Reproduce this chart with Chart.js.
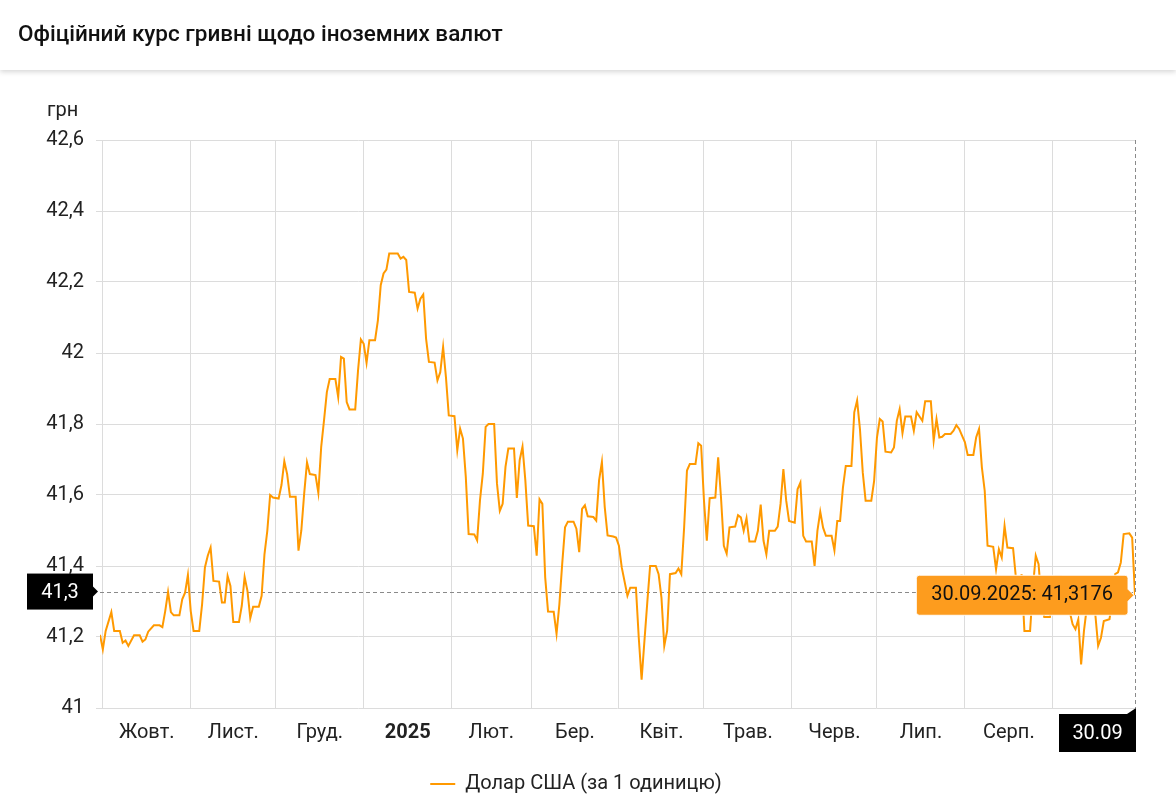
<!DOCTYPE html>
<html lang="uk">
<head>
<meta charset="utf-8">
<title>Офіційний курс гривні щодо іноземних валют</title>
<script src="https://cdn.jsdelivr.net/npm/chart.js@4"></script>
<style>
  html, body { margin: 0; padding: 0; background: #fff; width: 1176px; height: 807px; overflow: hidden; font-family: Roboto, "Noto Sans", sans-serif; }
  .header { position: absolute; left: 0; top: 0; width: 1176px; height: 70px; background: #fff; box-shadow: 0 2px 5px rgba(0,0,0,0.16); z-index: 2; }
  .header h1 { margin: 0; padding-left: 18px; line-height: 66px; font-size: 22.5px; font-weight: 500; color: #111; }
  .wrap { position: absolute; left: 0; top: 72px; width: 1176px; height: 735px; }
</style>
</head>
<body>
<div class="header"><h1>Офіційний курс гривні щодо іноземних валют</h1></div>
<div class="wrap"><canvas id="c" width="1176" height="735"></canvas></div>
<script>
// ---- data ----
const seriesName = 'Долар США (за 1 одиницю)';
const unitLabel = 'грн';
const monthLabels = ['Жовт.', 'Лист.', 'Груд.', '2025', 'Лют.', 'Бер.', 'Квіт.', 'Трав.', 'Черв.', 'Лип.', 'Серп.'];
const yTicksMin = 41, yTicksMax = 42.6, yTicksStep = 0.2;
const cursorValue = 41.328; // crosshair (mouse) level shown on the y axis

const dates = [
'2024-09-30','2024-10-01','2024-10-02','2024-10-04','2024-10-05','2024-10-07','2024-10-08','2024-10-09','2024-10-10','2024-10-12',
'2024-10-14','2024-10-15','2024-10-16','2024-10-17','2024-10-19','2024-10-21','2024-10-22','2024-10-23','2024-10-24','2024-10-25',
'2024-10-26','2024-10-28','2024-10-29','2024-10-30','2024-10-31','2024-11-01','2024-11-02','2024-11-04','2024-11-05','2024-11-06',
'2024-11-07','2024-11-08','2024-11-09','2024-11-11','2024-11-12','2024-11-13','2024-11-14','2024-11-15','2024-11-16','2024-11-18',
'2024-11-19','2024-11-20','2024-11-21','2024-11-22','2024-11-23','2024-11-25','2024-11-26','2024-11-27','2024-11-28','2024-11-29',
'2024-11-30','2024-12-02','2024-12-03','2024-12-04','2024-12-05','2024-12-06','2024-12-08','2024-12-09','2024-12-10','2024-12-11',
'2024-12-12','2024-12-13','2024-12-15','2024-12-16','2024-12-17','2024-12-18','2024-12-19','2024-12-20','2024-12-22','2024-12-23',
'2024-12-24','2024-12-25','2024-12-26','2024-12-27','2024-12-29','2024-12-30','2024-12-31','2025-01-01','2025-01-02','2025-01-03',
'2025-01-05','2025-01-06','2025-01-07','2025-01-08','2025-01-09','2025-01-10','2025-01-13','2025-01-14','2025-01-15','2025-01-16',
'2025-01-17','2025-01-19','2025-01-20','2025-01-21','2025-01-22','2025-01-23','2025-01-24','2025-01-26','2025-01-27','2025-01-28',
'2025-01-29','2025-01-30','2025-01-31','2025-02-02','2025-02-03','2025-02-04','2025-02-05','2025-02-06','2025-02-07','2025-02-09',
'2025-02-10','2025-02-11','2025-02-12','2025-02-13','2025-02-14','2025-02-16','2025-02-17','2025-02-18','2025-02-19','2025-02-20',
'2025-02-21','2025-02-23','2025-02-24','2025-02-25','2025-02-26','2025-02-27','2025-02-28','2025-03-02','2025-03-03','2025-03-04',
'2025-03-05','2025-03-06','2025-03-07','2025-03-09','2025-03-10','2025-03-11','2025-03-12','2025-03-13','2025-03-14','2025-03-16',
'2025-03-17','2025-03-18','2025-03-19','2025-03-20','2025-03-21','2025-03-23','2025-03-24','2025-03-25','2025-03-26','2025-03-27',
'2025-03-28','2025-03-30','2025-03-31','2025-04-01','2025-04-02','2025-04-04','2025-04-05','2025-04-07','2025-04-08','2025-04-09',
'2025-04-10','2025-04-11','2025-04-12','2025-04-14','2025-04-15','2025-04-16','2025-04-17','2025-04-18','2025-04-19','2025-04-21',
'2025-04-22','2025-04-23','2025-04-24','2025-04-25','2025-04-26','2025-04-28','2025-04-29','2025-04-30','2025-05-01','2025-05-02',
'2025-05-03','2025-05-05','2025-05-06','2025-05-07','2025-05-08','2025-05-09','2025-05-10','2025-05-12','2025-05-13','2025-05-14',
'2025-05-15','2025-05-16','2025-05-17','2025-05-19','2025-05-20','2025-05-21','2025-05-22','2025-05-23','2025-05-24','2025-05-26',
'2025-05-27','2025-05-28','2025-05-29','2025-05-30','2025-05-31','2025-06-02','2025-06-03','2025-06-04','2025-06-05','2025-06-06',
'2025-06-08','2025-06-09','2025-06-10','2025-06-11','2025-06-12','2025-06-13','2025-06-15','2025-06-16','2025-06-17','2025-06-18',
'2025-06-19','2025-06-20','2025-06-22','2025-06-23','2025-06-24','2025-06-25','2025-06-26','2025-06-27','2025-06-29','2025-06-30',
'2025-07-01','2025-07-02','2025-07-03','2025-07-04','2025-07-06','2025-07-07','2025-07-08','2025-07-09','2025-07-10','2025-07-11',
'2025-07-13','2025-07-14','2025-07-15','2025-07-16','2025-07-17','2025-07-18','2025-07-20','2025-07-21','2025-07-22','2025-07-23',
'2025-07-24','2025-07-25','2025-07-27','2025-07-28','2025-07-29','2025-07-30','2025-07-31','2025-08-01','2025-08-02','2025-08-04',
'2025-08-05','2025-08-06','2025-08-07','2025-08-08','2025-08-09','2025-08-11','2025-08-12','2025-08-13','2025-08-14','2025-08-15',
'2025-08-16','2025-08-18','2025-08-19','2025-08-20','2025-08-21','2025-08-22','2025-08-24','2025-08-25','2025-08-26','2025-08-27',
'2025-08-28','2025-08-29','2025-08-31','2025-09-02','2025-09-04','2025-09-05','2025-09-08','2025-09-09','2025-09-10','2025-09-11',
'2025-09-12','2025-09-13','2025-09-15','2025-09-16','2025-09-17','2025-09-18','2025-09-19','2025-09-21','2025-09-22','2025-09-23',
'2025-09-24','2025-09-25','2025-09-26','2025-09-28','2025-09-29','2025-09-30'
];

const rates = [
41.206,41.165,41.217,41.270,41.217,41.217,41.184,41.190,41.175,41.205,
41.205,41.187,41.193,41.215,41.233,41.233,41.228,41.273,41.327,41.270,
41.261,41.261,41.306,41.325,41.375,41.273,41.217,41.217,41.292,41.396,
41.429,41.452,41.358,41.356,41.297,41.297,41.372,41.344,41.242,41.242,
41.288,41.369,41.330,41.253,41.285,41.285,41.316,41.433,41.499,41.600,
41.593,41.590,41.628,41.695,41.659,41.595,41.595,41.443,41.500,41.603,
41.692,41.659,41.656,41.606,41.735,41.810,41.890,41.927,41.927,41.876,
41.989,41.984,41.862,41.841,41.841,41.951,42.038,42.026,41.972,42.036,
42.036,42.092,42.191,42.224,42.235,42.280,42.280,42.266,42.271,42.262,
42.172,42.170,42.125,42.153,42.165,42.040,41.975,41.973,41.923,41.946,
42.017,41.932,41.824,41.822,41.726,41.787,41.759,41.651,41.490,41.489,
41.472,41.585,41.660,41.792,41.800,41.800,41.632,41.555,41.575,41.679,
41.731,41.731,41.592,41.698,41.736,41.641,41.514,41.512,41.429,41.588,
41.575,41.368,41.272,41.271,41.209,41.292,41.406,41.509,41.525,41.525,
41.505,41.439,41.561,41.571,41.540,41.538,41.528,41.641,41.693,41.566,
41.486,41.483,41.480,41.457,41.396,41.316,41.339,41.339,41.198,41.080,
41.189,41.297,41.400,41.400,41.377,41.311,41.175,41.217,41.377,41.380,
41.393,41.377,41.509,41.669,41.687,41.687,41.746,41.739,41.584,41.471,
41.591,41.593,41.706,41.593,41.457,41.435,41.509,41.511,41.543,41.537,
41.499,41.535,41.469,41.469,41.499,41.573,41.471,41.433,41.499,41.499,
41.511,41.575,41.673,41.584,41.527,41.522,41.616,41.635,41.485,41.469,
41.469,41.400,41.499,41.553,41.508,41.485,41.485,41.444,41.527,41.527,
41.621,41.682,41.682,41.833,41.866,41.786,41.663,41.584,41.584,41.640,
41.762,41.814,41.807,41.722,41.720,41.734,41.809,41.842,41.774,41.821,
41.821,41.781,41.833,41.821,41.809,41.864,41.864,41.753,41.814,41.762,
41.764,41.772,41.772,41.781,41.797,41.786,41.767,41.749,41.713,41.713,
41.763,41.786,41.678,41.612,41.457,41.454,41.391,41.447,41.424,41.513,
41.452,41.450,41.367,41.280,41.377,41.217,41.217,41.340,41.429,41.405,
41.300,41.256,41.256,41.370,41.370,41.340,41.236,41.222,41.250,41.123,
41.217,41.283,41.283,41.264,41.175,41.198,41.245,41.250,41.302,41.377,
41.382,41.410,41.490,41.492,41.480,41.3176
];

// ---- helpers ----
const ORIGIN = Date.UTC(2024, 8, 30);
function dayIndex(iso) {
  const p = iso.split('-').map(Number);
  return (Date.UTC(p[0], p[1] - 1, p[2]) - ORIGIN) / 864e5;
}
function fmtNum(v) { return String(v).replace('.', ','); }
function fmtDate(iso) { const p = iso.split('-'); return p[2] + '.' + p[1] + '.' + p[0]; }

const points = dates.map((d, i) => ({ x: dayIndex(d), y: rates[i] }));
const lastIdx = points.length - 1;
const xMax = dayIndex(dates[lastIdx]);

// month boundaries (Oct 2024 .. Oct 2025)
const monthStarts = [];
for (let k = 0; k <= 12; k++) monthStarts.push((Date.UTC(2024, 9 + k, 1) - ORIGIN) / 864e5);
const labelTicks = monthLabels.map((lab, k) => ({ value: (monthStarts[k] + monthStarts[k + 1]) / 2, lab }));
const gridTicks = monthStarts.slice(0, 12).map(v => ({ value: v, lab: '' }));
const allXTicks = gridTicks.concat(labelTicks).sort((a, b) => a.value - b.value);

const FONT = 'Roboto, "Noto Sans", sans-serif';
Chart.defaults.font.family = FONT;
Chart.defaults.color = '#222';

const ORANGE = '#ff9900';
const GRID = '#dcdcdc';
const FS = 20;

const overlay = {
  id: 'overlay',
  beforeDatasetsDraw(chart) {
    const { ctx, chartArea: a, scales: { x, y } } = chart;
    const px = x.getPixelForValue(points[lastIdx].x);
    const py = y.getPixelForValue(cursorValue);
    ctx.save();
    ctx.setLineDash([4, 3]);
    ctx.strokeStyle = '#8a8a8a';
    ctx.lineWidth = 1;
    ctx.beginPath();
    ctx.moveTo(a.left, Math.round(py) + 0.5);
    ctx.lineTo(px, Math.round(py) + 0.5);
    ctx.moveTo(Math.round(px) + 0.5, a.top);
    ctx.lineTo(Math.round(px) + 0.5, a.bottom);
    ctx.stroke();
    ctx.restore();
  },
  afterDraw(chart) {
    const { ctx, chartArea: a, scales: { x, y } } = chart;
    const px = x.getPixelForValue(points[lastIdx].x);
    const py = y.getPixelForValue(cursorValue);
    ctx.save();
    // unit label
    ctx.fillStyle = '#222';
    ctx.font = FS + 'px ' + FONT;
    ctx.textAlign = 'left';
    ctx.textBaseline = 'middle';
    ctx.fillText(unitLabel, a.left - 53, a.top - 29);

    // y crosshair label
    const yr = a.left - 7, yw = 66, yh = 36;
    ctx.fillStyle = '#000';
    ctx.fillRect(yr - yw, py - yh / 2, yw, yh);
    ctx.beginPath();
    ctx.moveTo(yr, py - 5); ctx.lineTo(yr + 5, py); ctx.lineTo(yr, py + 5); ctx.closePath();
    ctx.fill();
    ctx.fillStyle = '#fff';
    ctx.textAlign = 'center';
    ctx.fillText(fmtNum(cursorValue.toFixed(1)), yr - yw / 2, py + 1);

    // x crosshair label
    const xr = px + 1, xw = 77, xt = a.bottom + 6, xh = 38;
    ctx.fillStyle = '#000';
    ctx.fillRect(xr - xw, xt, xw, xh);
    ctx.beginPath();
    ctx.moveTo(xr - 9, xt); ctx.lineTo(xr, xt); ctx.lineTo(xr, xt - 6); ctx.closePath();
    ctx.fill();
    ctx.fillStyle = '#fff';
    const p = dates[lastIdx].split('-');
    ctx.fillText(p[2] + '.' + p[1], xr - xw / 2, xt + xh / 2 + 1);
    ctx.restore();
  }
};

const chart = new Chart(document.getElementById('c'), {
  type: 'line',
  data: {
    datasets: [{
      label: seriesName,
      data: points,
      borderColor: ORANGE,
      backgroundColor: ORANGE,
      borderWidth: 2,
      pointRadius: 0,
      pointHoverRadius: 0,
      tension: 0,
      fill: false
    }]
  },
  options: {
    responsive: false,
    animation: false,
    events: [],
    layout: { padding: { left: 17, right: 41, top: 68, bottom: 3 } },
    scales: {
      x: {
        type: 'linear',
        min: 0,
        max: xMax,
        afterBuildTicks(scale) { scale.ticks = allXTicks.map(t => ({ value: t.value })); },
        afterFit(scale) { scale.height = 56; },
        ticks: {
          autoSkip: false,
          maxRotation: 0,
          padding: 13,
          color: '#222',
          font: (c) => {
            const t = allXTicks[c.index];
            return { size: FS, weight: t && t.lab === '2025' ? 'bold' : 'normal' };
          },
          callback: (v, i) => allXTicks[i].lab
        },
        grid: {
          drawTicks: false,
          color: (c) => (c.tick && allXTicks[c.index] && allXTicks[c.index].lab === '' ? GRID : 'rgba(0,0,0,0)'),
          lineWidth: 1
        },
        border: { display: false }
      },
      y: {
        min: yTicksMin,
        max: yTicksMax,
        afterFit(scale) { scale.width = 83; },
        ticks: {
          stepSize: yTicksStep,
          padding: 12,
          color: '#222',
          font: { size: FS },
          callback: (v) => fmtNum(Math.round(v * 10) / 10)
        },
        grid: { color: GRID, tickLength: 4, lineWidth: 1 },
        border: { display: false }
      }
    },
    plugins: {
      legend: {
        position: 'bottom',
        labels: {
          usePointStyle: true,
          pointStyle: 'line',
          pointStyleWidth: 25,
          boxHeight: FS,
          color: '#222',
          font: { size: FS },
          padding: 10
        }
      },
      tooltip: {
        enabled: true,
        xAlign: 'right',
        yAlign: 'center',
        displayColors: false,
        backgroundColor: '#fd9c1e',
        bodyColor: '#111',
        bodyFont: { size: FS },
        padding: { left: 15, right: 15, top: 8, bottom: 8 },
        caretSize: 6,
        caretPadding: 1,
        cornerRadius: 3,
        borderColor: 'rgba(255,255,255,0.9)',
        borderWidth: 1,
        callbacks: {
          title: () => '',
          label: (c) => fmtDate(dates[c.dataIndex]) + ': ' + fmtNum(rates[c.dataIndex])
        }
      }
    }
  },
  plugins: [overlay]
});

chart.tooltip.setActiveElements([{ datasetIndex: 0, index: lastIdx }], { x: 0, y: 0 });
chart.update();
</script>
</body>
</html>
